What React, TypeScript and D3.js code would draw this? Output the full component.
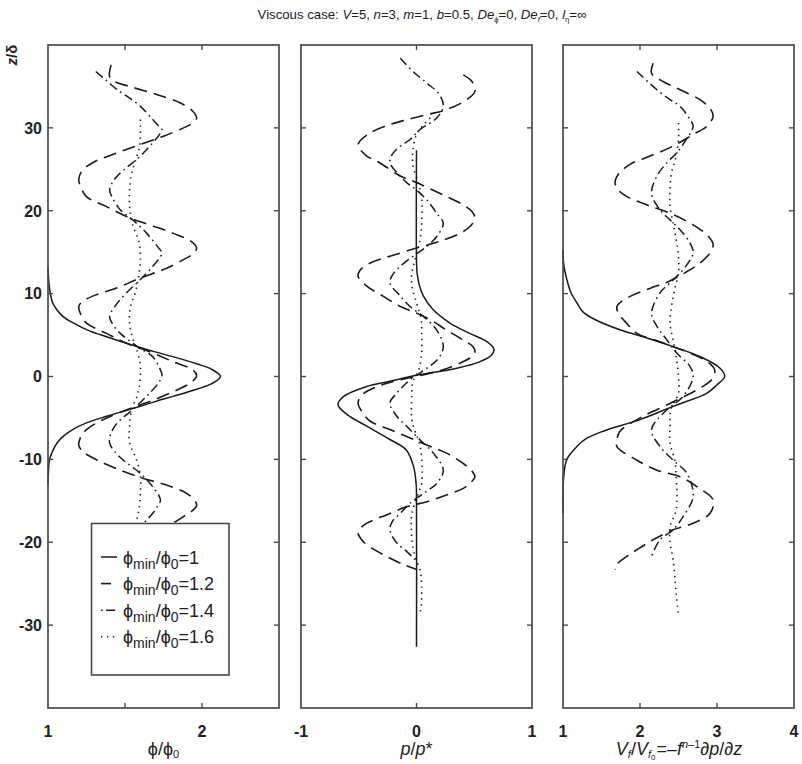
import React from "react";
import * as d3 from "d3";

type Pt = [number, number]; // [z/δ, value]

// ---- shared axis data ----
const zDomain: [number, number] = [-40, 40];
const zTicks = [-30, -20, -10, 0, 10, 20, 30];
const seriesNames = ["1", "1.2", "1.4", "1.6"];

// ---- Panel 1: φ/φ0 ----
const phiDomain: [number, number] = [1, 2.5];
const phiTicks = [1.5, 2];
const phiTickLabels = [1, 2];
const phi_1: Pt[] = [[13.2,1.0],[11.5,1.005],[10,1.015],[8.9,1.03],[8,1.06],[7.2,1.1],[6.5,1.16],[5.5,1.27],[4.8,1.38],[3.9,1.53],[3.0,1.69],[2.4,1.81],[1.5,1.97],[0.9,2.06],[0,2.12],[-0.9,2.06],[-1.5,1.97],[-2.4,1.81],[-3.0,1.7],[-3.6,1.6],[-4.8,1.38],[-5.6,1.25],[-6.4,1.16],[-7.2,1.1],[-8,1.06],[-9,1.03],[-10,1.01],[-11.5,1.003],[-13.1,1.0]];
const phi_12: Pt[] = [[37.6,1.41],[36.8,1.40],[36.2,1.40],[35.6,1.43],[35.0,1.53],[34.0,1.71],[33.0,1.86],[32.0,1.94],[31.2,1.965],[30.6,1.94],[30.0,1.88],[29.0,1.75],[28.0,1.6],[27.0,1.45],[25.8,1.29],[24.8,1.22],[23.8,1.2],[23.0,1.21],[21.7,1.25],[20.5,1.38],[19.3,1.51],[18.3,1.66],[17.3,1.81],[16.3,1.93],[15.5,1.965],[14.8,1.94],[14.1,1.88],[12.9,1.75],[11.9,1.6],[10.7,1.45],[9.7,1.29],[9.0,1.22],[8.45,1.2],[7.6,1.21],[6.45,1.25],[5.2,1.38],[4.0,1.51],[3.0,1.66],[1.8,1.81],[0.8,1.94],[0.1,1.965],[-0.7,1.93],[-1.6,1.84],[-2.8,1.69],[-3.9,1.53],[-5.0,1.38],[-6.4,1.25],[-7.4,1.21],[-8.3,1.2],[-9.1,1.23],[-10.1,1.32],[-11.3,1.47],[-12.3,1.62],[-13.1,1.77],[-14.1,1.9],[-15.0,1.955],[-15.6,1.965],[-16.3,1.93],[-16.9,1.88],[-17.7,1.81],[-18.9,1.66],[-20.0,1.5],[-20.8,1.4]];
const phi_14: Pt[] = [[36.8,1.31],[35.7,1.38],[34.6,1.45],[33.6,1.53],[32.6,1.6],[31,1.68],[30.2,1.72],[29.8,1.74],[29.1,1.72],[28.2,1.68],[26.6,1.6],[25.2,1.51],[24.2,1.45],[23.3,1.415],[22.5,1.40],[21.5,1.42],[20.1,1.47],[18.9,1.55],[17.3,1.64],[15.7,1.71],[14.9,1.74],[14.2,1.72],[13.3,1.68],[11.7,1.6],[10.1,1.51],[8.6,1.44],[7.25,1.40],[6.3,1.42],[5.2,1.47],[3.6,1.58],[2.4,1.68],[1.2,1.72],[0.2,1.74],[-0.7,1.72],[-2,1.66],[-4,1.55],[-5.6,1.45],[-6.8,1.41],[-8,1.40],[-9,1.43],[-10.1,1.49],[-11.7,1.6],[-13.3,1.68],[-14.9,1.73],[-15.7,1.71],[-16.5,1.68],[-17.7,1.62],[-19.3,1.52],[-21,1.44],[-22.3,1.40]];
const phi_16: Pt[] = [[31,1.6],[29.2,1.6],[27.8,1.595],[26.5,1.576],[24.5,1.543],[22.5,1.53],[20.5,1.53],[18.3,1.55],[16.3,1.59],[14.3,1.6],[12.3,1.59],[10.3,1.57],[8.4,1.535],[6.4,1.53],[4.6,1.55],[3.6,1.57],[1.6,1.598],[0,1.6],[-1.5,1.59],[-2.5,1.576],[-4,1.543],[-6,1.53],[-8,1.53],[-10.1,1.576],[-12,1.6],[-14,1.6],[-16.1,1.59],[-17.3,1.576],[-19,1.55],[-21,1.53],[-23,1.53]];

// ---- Panel 2: p/p* ----
const pDomain: [number, number] = [-1, 1];
const pTicks = [0];
const pTickLabels = [-1, 0, 1];
const p_1: Pt[] = [[27.3,0],[14,0],[12.5,0.005],[11,0.025],[9.7,0.06],[8.05,0.145],[6.45,0.29],[5.2,0.46],[4.2,0.61],[3.3,0.67],[2.6,0.65],[1.8,0.55],[1.0,0.35],[0.2,0.02],[-0.6,-0.24],[-1.2,-0.43],[-2.4,-0.63],[-3.4,-0.68],[-4.6,-0.6],[-6,-0.43],[-7.6,-0.23],[-8.85,-0.09],[-10.9,-0.025],[-13,-0.003],[-15,0],[-32.6,0]];
const p_12: Pt[] = [[36.4,0.405],[35.6,0.48],[34.4,0.506],[33.4,0.435],[32.2,0.26],[31.6,0.09],[31,-0.08],[30.4,-0.23],[29.4,-0.4],[28.4,-0.49],[27.8,-0.506],[26.6,-0.43],[25.8,-0.32],[24.2,-0.14],[23.4,0],[22.1,0.2],[20.9,0.38],[19.9,0.48],[19.1,0.506],[18.2,0.47],[17.3,0.38],[16.3,0.2],[15.5,0],[14.5,-0.23],[13.7,-0.4],[12.8,-0.49],[12.1,-0.506],[10.9,-0.43],[9.7,-0.29],[8.45,-0.14],[7.65,0],[6.85,0.12],[5.6,0.26],[4.4,0.405],[3.6,0.49],[3.0,0.506],[2.4,0.48],[1.8,0.405],[0.8,0.23],[-0.4,-0.14],[-1.2,-0.34],[-2.2,-0.47],[-3.2,-0.506],[-4.3,-0.47],[-5.4,-0.4],[-6.4,-0.23],[-7.4,-0.06],[-8.45,0.12],[-9.25,0.26],[-10.5,0.405],[-11.4,0.48],[-12.1,0.506],[-12.8,0.47],[-13.5,0.405],[-14.3,0.26],[-15.1,0.09],[-15.7,-0.08],[-16.7,-0.26],[-17.7,-0.43],[-18.4,-0.49],[-18.9,-0.506],[-19.6,-0.48],[-20.3,-0.43],[-21.7,-0.26],[-22.7,-0.11],[-23.3,0]];
const p_14: Pt[] = [[38.4,-0.14],[36.8,-0.03],[35.4,0.09],[34,0.2],[32.6,0.232],[31.2,0.175],[29.8,0.03],[28.6,-0.056],[27.8,-0.14],[26.8,-0.21],[25.8,-0.23],[24.6,-0.17],[23.4,-0.085],[22.5,0],[21.3,0.09],[19.7,0.175],[18.5,0.232],[16.9,0.175],[15.7,0.09],[14.5,-0.03],[13.3,-0.14],[12.2,-0.21],[11.3,-0.23],[9.7,-0.14],[8.45,-0.056],[7.25,0.06],[5.6,0.175],[3.6,0.232],[2.2,0.19],[1.0,0.09],[-0.4,-0.056],[-2,-0.17],[-3.2,-0.23],[-4.8,-0.17],[-6,-0.085],[-7.65,0.03],[-9.25,0.146],[-11.3,0.232],[-12.9,0.175],[-14.1,0.06],[-15.3,-0.056],[-16.5,-0.14],[-17.5,-0.21],[-18.5,-0.23],[-20.1,-0.17],[-21.1,-0.085],[-22.1,-0.013]];
const p_16: Pt[] = [[31.2,0.12],[30.2,0.05],[29.2,0],[27.4,-0.03],[25.4,-0.03],[23.4,0.015],[21.3,0.045],[18.5,0.045],[16.5,0.03],[14.1,-0.013],[12.5,-0.04],[10.9,-0.04],[8.9,0],[6.9,0.04],[4.9,0.045],[2.9,0.045],[0.8,0.02],[-0.6,-0.03],[-2,-0.04],[-5.2,-0.04],[-6.6,-0.013],[-8,0.025],[-10,0.045],[-12.9,0.045],[-14.1,0.015],[-16.5,-0.04],[-18.1,-0.045],[-19.7,-0.04],[-21.7,-0.013],[-23.3,0.03],[-25.4,0.045],[-27.8,0.04],[-28.6,0.03]];

// ---- Panel 3: Vf/Vf0 ----
const vDomain: [number, number] = [1, 4];
const vTicks = [2, 3];
const vTickLabels = [1, 2, 3, 4];
const v_1: Pt[] = [[15.3,1.0],[13.5,1.01],[11.7,1.05],[10.2,1.1],[8.9,1.18],[7.8,1.26],[6.85,1.42],[5.64,1.74],[4.64,2.09],[3.6,2.43],[2.4,2.78],[1.0,3.04],[0,3.10],[-1,3.0],[-2,2.87],[-3.6,2.43],[-5.2,2.0],[-6.6,1.52],[-7.5,1.3],[-8.45,1.18],[-10,1.05],[-12,1.01],[-14,1.0],[-16.5,1.0]];
const v_12: Pt[] = [[37.8,2.17],[36.6,2.15],[35.8,2.26],[34.6,2.52],[33.4,2.78],[32.2,2.92],[31.4,2.95],[30.2,2.87],[29.2,2.69],[27.8,2.43],[26.6,2.13],[25.6,1.87],[24.4,1.72],[23.4,1.675],[22.5,1.72],[21.7,1.83],[20.7,2.09],[19.7,2.39],[18.3,2.69],[17.0,2.88],[15.9,2.95],[14.8,2.9],[13.7,2.78],[12.6,2.6],[11.5,2.38],[10.6,2.12],[9.7,1.88],[8.9,1.74],[8.45,1.70],[7.6,1.72],[6.5,1.82],[5.2,1.96],[4.2,2.26],[3.0,2.6],[1.8,2.87],[0.8,2.97],[-0.4,2.93],[-1.4,2.78],[-3.2,2.4],[-5,2.0],[-6.6,1.74],[-7.6,1.70],[-8.45,1.70],[-10.1,1.96],[-11.3,2.22],[-12.1,2.52],[-13.3,2.74],[-14.9,2.95],[-16.5,2.91],[-17.7,2.69],[-18.5,2.43],[-19.7,2.17],[-20.9,1.96],[-21.7,1.83],[-22.9,1.675],[-23.3,1.68]];
const v_14: Pt[] = [[36.8,1.96],[34.6,2.22],[33.4,2.39],[32.6,2.52],[31,2.65],[30.2,2.69],[28.6,2.6],[27,2.48],[25.8,2.35],[24.2,2.22],[22.1,2.15],[20.1,2.26],[18.9,2.39],[17.7,2.52],[16.1,2.65],[14.9,2.69],[12.9,2.56],[11.3,2.39],[10.1,2.26],[7.65,2.15],[6.05,2.22],[4.4,2.35],[2.8,2.48],[1.2,2.65],[0,2.69],[-2.4,2.56],[-4,2.35],[-6.4,2.15],[-8.45,2.26],[-10.1,2.43],[-11.7,2.61],[-14.5,2.69],[-16.9,2.56],[-18.5,2.43],[-19.7,2.26],[-21.7,2.15]];
const v_16: Pt[] = [[30.6,2.5],[28.6,2.5],[26.6,2.47],[24.6,2.41],[22.5,2.39],[20.5,2.39],[18.5,2.43],[16.5,2.47],[14.5,2.5],[12.5,2.5],[10.5,2.45],[8.5,2.41],[6.4,2.39],[4.4,2.43],[2.4,2.47],[0,2.5],[-2,2.5],[-4,2.4],[-6,2.39],[-8,2.39],[-10.1,2.45],[-12,2.47],[-16.1,2.47],[-18.1,2.39],[-20,2.39],[-22.1,2.43],[-26.2,2.47],[-28.8,2.5]];

const LINE_STYLES = [
  { dash: undefined as string | undefined, width: 1.5 },
  { dash: "13 7", width: 1.6 },
  { dash: "9 4 1.6 4", width: 1.5 },
  { dash: "1.4 4.5", width: 1.6 },
];

const INK = "#1a1a1a";
const FRAME = "#4a4a4a";
const FONT = "'Liberation Sans', Arial, Helvetica, sans-serif";
const PHI = "\u03D5";

export default function App() {
  const W = 802, H = 764;
  const top = 45, bottom = 708;
  const y = d3.scaleLinear().domain(zDomain).range([bottom, top]);

  const panels = [
    { x0: 48, x1: 279, domain: phiDomain, ticks: phiTicks, labels: phiTickLabels, series: [phi_1, phi_12, phi_14, phi_16] },
    { x0: 301, x1: 532, domain: pDomain, ticks: pTicks, labels: pTickLabels, series: [p_1, p_12, p_14, p_16] },
    { x0: 563, x1: 794, domain: vDomain, ticks: vTicks, labels: vTickLabels, series: [v_1, v_12, v_14, v_16] },
  ];

  const tickLen = 5;
  const tickLabelY = 737;
  const axisTitleY = 755;

  return (
    <svg width={W} height={H} viewBox={`0 0 ${W} ${H}`}
      style={{ position: "absolute", left: 0, top: 0, background: "#fff" }}
      fontFamily={FONT}>
      <rect x={0} y={0} width={W} height={H} fill="#fff" />

      {/* title */}
      <text x={422} y={19} textAnchor="middle" fontSize={13.2} fill="#222">
        <tspan>Viscous case: </tspan>
        <tspan fontStyle="italic">V</tspan><tspan>=5, </tspan>
        <tspan fontStyle="italic">n</tspan><tspan>=3, </tspan>
        <tspan fontStyle="italic">m</tspan><tspan>=1, </tspan>
        <tspan fontStyle="italic">b</tspan><tspan>=0.5, </tspan>
        <tspan fontStyle="italic">De</tspan><tspan fontSize={7.5} dy={3}>{PHI}</tspan><tspan dy={-3}>=0, </tspan>
        <tspan fontStyle="italic">De</tspan><tspan fontSize={7.5} fontStyle="italic" dy={3}>f</tspan><tspan dy={-3}>=0, </tspan>
        <tspan fontStyle="italic">l</tspan><tspan fontSize={7.5} dy={3}>η</tspan><tspan dy={-3}>=∞</tspan>
      </text>

      {/* y axis label */}
      <text transform="translate(17,55) rotate(-90)" textAnchor="middle" fontSize={15} fontWeight="bold" fill="#222">
        <tspan fontStyle="italic">z</tspan><tspan>/δ</tspan>
      </text>

      {/* y tick labels */}
      {zTicks.map((t) => (
        <text key={"yl" + t} x={42} y={y(t)} dy="0.36em" textAnchor="end" fontSize={16} fontWeight="bold" fill="#222">
          {String(t)}
        </text>
      ))}

      {panels.map((p, pi) => {
        const x = d3.scaleLinear().domain(p.domain).range([p.x0, p.x1]);
        const line = d3.line<Pt>()
          .x((d) => x(d[1]))
          .y((d) => y(d[0]))
          .curve(d3.curveCatmullRom.alpha(0.5));
        return (
          <g key={"panel" + pi}>
            {p.series.map((s, si) => (
              <path key={"s" + si} d={line(s) || ""} fill="none" stroke={INK}
                strokeWidth={LINE_STYLES[si].width}
                strokeDasharray={LINE_STYLES[si].dash}
                strokeLinejoin="round" />
            ))}
            {zTicks.map((t) => (
              <g key={"yt" + t}>
                <line x1={p.x0} x2={p.x0 + tickLen} y1={y(t)} y2={y(t)} stroke={FRAME} strokeWidth={1.4} />
                <line x1={p.x1} x2={p.x1 - tickLen} y1={y(t)} y2={y(t)} stroke={FRAME} strokeWidth={1.4} />
              </g>
            ))}
            {p.ticks.map((t) => (
              <g key={"xt" + t}>
                <line x1={x(t)} x2={x(t)} y1={bottom} y2={bottom - tickLen} stroke={FRAME} strokeWidth={1.4} />
                <line x1={x(t)} x2={x(t)} y1={top} y2={top + tickLen} stroke={FRAME} strokeWidth={1.4} />
              </g>
            ))}
            <rect x={p.x0} y={top} width={p.x1 - p.x0} height={bottom - top} fill="none" stroke={FRAME} strokeWidth={1.7} />
            {p.labels.map((t) => (
              <text key={"xl" + t} x={x(t)} y={tickLabelY} textAnchor="middle" fontSize={16} fontWeight="bold" fill="#222">
                {String(t)}
              </text>
            ))}
          </g>
        );
      })}

      {/* axis titles */}
      <text x={163.5} y={axisTitleY} textAnchor="middle" fontSize={18} fill="#222">
        <tspan>{PHI + "/" + PHI}</tspan><tspan fontSize={11} dy={3}>0</tspan>
      </text>
      <text x={416.5} y={axisTitleY} textAnchor="middle" fontSize={18} fill="#222" fontStyle="italic">
        <tspan>p</tspan><tspan fontStyle="normal">/</tspan><tspan>p</tspan><tspan fontStyle="normal">*</tspan>
      </text>
      <text x={679} y={axisTitleY} textAnchor="middle" fontSize={18} fill="#222">
        <tspan fontStyle="italic">V</tspan><tspan fontSize={11} fontStyle="italic" dy={3}>f</tspan>
        <tspan dy={-3}>/</tspan><tspan fontStyle="italic">V</tspan><tspan fontSize={11} fontStyle="italic" dy={3}>f</tspan><tspan fontSize={8} dy={2}>0</tspan>
        <tspan dy={-5} dx={1}>=–</tspan><tspan fontStyle="italic">f</tspan><tspan fontSize={11} fontStyle="italic" dy={-7}>n</tspan><tspan fontSize={11}>–1</tspan>
        <tspan dy={7}>∂</tspan><tspan fontStyle="italic">p</tspan><tspan>/∂</tspan><tspan fontStyle="italic">z</tspan>
      </text>

      {/* legend */}
      <g>
        <rect x={91.5} y={523.5} width={137.5} height={151.5} fill="#fff" stroke={FRAME} strokeWidth={1.6} />
        {seriesNames.map((name, i) => {
          const ly = 557 + i * 26.6;
          return (
            <g key={"lg" + i}>
              <line x1={101} x2={117} y1={ly} y2={ly} stroke={INK}
                strokeWidth={LINE_STYLES[i].width}
                strokeDasharray={i === 1 ? "10 6" : i === 2 ? "1.6 3.5 9 4" : LINE_STYLES[i].dash} />
              <text x={123} y={ly + 6.5} fontSize={18} fill="#222">
                <tspan>{PHI}</tspan><tspan fontSize={14} dy={5}>min</tspan><tspan dy={-5}>{"/" + PHI}</tspan><tspan fontSize={14} dy={5}>0</tspan><tspan dy={-5}>{"=" + name}</tspan>
              </text>
            </g>
          );
        })}
      </g>
    </svg>
  );
}
